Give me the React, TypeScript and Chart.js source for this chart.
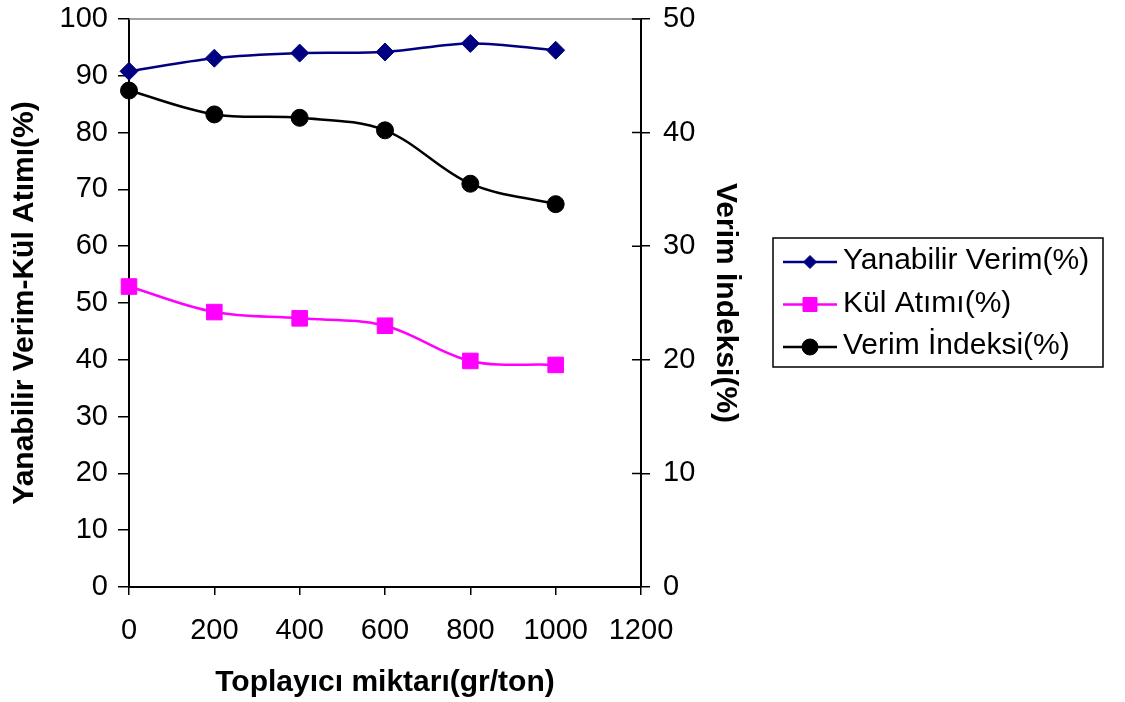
import React, { useEffect, useRef } from 'react';
import { Chart, registerables } from 'chart.js';

Chart.register(...registerables);

// ---- data ----
const xValues = [0, 200, 400, 600, 800, 1000];
const yanabilirVerim = [90.8, 93.1, 94.0, 94.2, 95.7, 94.5];
const kulAtimi = [52.9, 48.4, 47.3, 46.0, 39.8, 39.1];
const verimIndeksi = [43.7, 41.6, 41.3, 40.2, 35.5, 33.7];
const seriesNames = ['Yanabilir Verim(%)', 'Kül Atımı(%)', 'Verim İndeksi(%)'];
const xTitle = 'Toplayıcı miktarı(gr/ton)';
const yTitle = 'Yanabilir Verim-Kül Atımı(%)';
const y1Title = 'Verim İndeksi(%)';

const FONT = '"Liberation Sans", Arial, Helvetica, sans-serif';
const COLORS = ['#000080', '#FF00FF', '#000000'];
const STYLES = ['diamond', 'square', 'circle'];

function drawMarker(ctx: CanvasRenderingContext2D, style: string, x: number, y: number, color: string) {
  ctx.fillStyle = color;
  ctx.strokeStyle = color;
  ctx.lineWidth = 1;
  ctx.beginPath();
  if (style === 'diamond') {
    const r = 6.5;
    ctx.moveTo(x, y - r);
    ctx.lineTo(x + r, y);
    ctx.lineTo(x, y + r);
    ctx.lineTo(x - r, y);
    ctx.closePath();
  } else if (style === 'square') {
    const h = 7;
    ctx.rect(x - h, y - h, 2 * h, 2 * h);
  } else {
    ctx.arc(x, y, 8, 0, Math.PI * 2);
  }
  ctx.fill();
  ctx.stroke();
}

const decorPlugin = {
  id: 'decor',
  afterDraw(chart: any) {
    const ctx: CanvasRenderingContext2D = chart.ctx;
    ctx.save();
    // inner halves of the right axis ticks
    const y1 = chart.scales.y1;
    ctx.strokeStyle = '#000';
    ctx.lineWidth = 1.5;
    ctx.beginPath();
    y1.ticks.forEach((t: any) => {
      const py = y1.getPixelForValue(t.value);
      ctx.moveTo(y1.left - 9, py);
      ctx.lineTo(y1.left, py);
    });
    ctx.stroke();

    // legend
    const bx = 773, by = 238, bw = 330, bh = 129;
    ctx.strokeStyle = '#000';
    ctx.lineWidth = 1.5;
    ctx.strokeRect(bx, by, bw, bh);
    ctx.font = `30px ${FONT}`;
    ctx.textBaseline = 'middle';
    ctx.textAlign = 'left';
    chart.data.datasets.forEach((ds: any, i: number) => {
      const cy = by + 24 + i * 42.5;
      ctx.strokeStyle = COLORS[i];
      ctx.lineWidth = 2.5;
      ctx.beginPath();
      ctx.moveTo(bx + 10, cy);
      ctx.lineTo(bx + 64, cy);
      ctx.stroke();
      drawMarker(ctx, STYLES[i], bx + 37, cy, COLORS[i]);
      ctx.fillStyle = '#000';
      ctx.fillText(ds.label, bx + 70, cy - 1);
    });
    ctx.restore();
  },
  beforeDatasetsDraw(chart: any) {
    const ctx: CanvasRenderingContext2D = chart.ctx;
    const area = chart.chartArea;
    ctx.save();
    ctx.strokeStyle = '#808080';
    ctx.lineWidth = 1.5;
    ctx.beginPath();
    ctx.moveTo(area.left, area.top);
    ctx.lineTo(area.right, area.top);
    ctx.stroke();
    ctx.restore();
  },
};

export default function App() {
  const ref = useRef<HTMLCanvasElement | null>(null);

  useEffect(() => {
    if (!ref.current) return;
    const toPts = (arr: number[]) => arr.map((v, i) => ({ x: xValues[i], y: v }));
    const tickFont = { family: FONT, size: 29 };
    const titleFont = { family: FONT, size: 30, weight: 'bold' as const, lineHeight: 1.2 };
    const plain = (v: any) => String(v);
    const chart = new Chart(ref.current, {
      type: 'line',
      data: {
        datasets: [
          {
            label: seriesNames[0],
            data: toPts(yanabilirVerim),
            yAxisID: 'y',
            borderColor: COLORS[0],
            backgroundColor: COLORS[0],
            borderWidth: 2.5,
            pointStyle: 'rectRot',
            pointRadius: 9,
            pointBorderWidth: 1,
            tension: 0.35,
            clip: false,
          },
          {
            label: seriesNames[1],
            data: toPts(kulAtimi),
            yAxisID: 'y',
            borderColor: COLORS[1],
            backgroundColor: COLORS[1],
            borderWidth: 2.5,
            pointStyle: 'rect',
            pointRadius: 11,
            pointBorderWidth: 1,
            tension: 0.35,
            clip: false,
          },
          {
            label: seriesNames[2],
            data: toPts(verimIndeksi),
            yAxisID: 'y1',
            borderColor: COLORS[2],
            backgroundColor: COLORS[2],
            borderWidth: 2.5,
            pointStyle: 'circle',
            pointRadius: 8.5,
            pointBorderWidth: 1,
            tension: 0.35,
            clip: false,
          },
        ],
      },
      options: {
        responsive: false,
        animation: false,
        devicePixelRatio: 1,
        layout: { padding: { left: 7, right: 382, top: 19, bottom: 1 } },
        plugins: { legend: { display: false }, tooltip: { enabled: false } },
        scales: {
          x: {
            type: 'linear',
            min: 0,
            max: 1200,
            ticks: { stepSize: 200, color: '#000', font: tickFont, padding: 19, maxRotation: 0, autoSkip: false, callback: plain },
            grid: { drawOnChartArea: false, tickLength: 8, color: '#000', lineWidth: 1.5 },
            border: { color: '#000', width: 2 },
            title: { display: true, text: xTitle, color: '#000', font: titleFont, padding: { top: 0, bottom: 0 } },
            afterFit: (s: any) => { s.height = 114; s.paddingLeft = 0; s.paddingRight = 0; },
          },
          y: {
            position: 'left',
            min: 0,
            max: 100,
            ticks: { stepSize: 10, color: '#000', font: tickFont, padding: 10, callback: plain },
            grid: { drawOnChartArea: false, tickLength: 11, color: '#000', lineWidth: 1.5 },
            border: { color: '#000', width: 2 },
            title: { display: true, text: yTitle, color: '#000', font: titleFont, padding: { top: 0, bottom: 0 } },
            afterFit: (s: any) => { s.width = 122; s.paddingTop = 0; s.paddingBottom = 0; },
          },
          y1: {
            position: 'right',
            min: 0,
            max: 50,
            ticks: { stepSize: 10, color: '#000', font: tickFont, padding: 13, callback: plain },
            grid: { drawOnChartArea: false, tickLength: 9, color: '#000', lineWidth: 1.5 },
            border: { color: '#000', width: 2 },
            title: { display: true, text: y1Title, color: '#000', font: titleFont, padding: { top: 0, bottom: 0 } },
            afterFit: (s: any) => { s.width = 102; s.paddingTop = 0; s.paddingBottom = 0; },
          },
        },
      } as any,
      plugins: [decorPlugin],
    });
    return () => chart.destroy();
  }, []);

  return (
    <div style={{ position: 'absolute', left: 0, top: 0, width: 1125, height: 702, background: '#fff' }}>
      <canvas ref={ref} width={1125} height={702} style={{ display: 'block', width: 1125, height: 702 }} />
    </div>
  );
}
